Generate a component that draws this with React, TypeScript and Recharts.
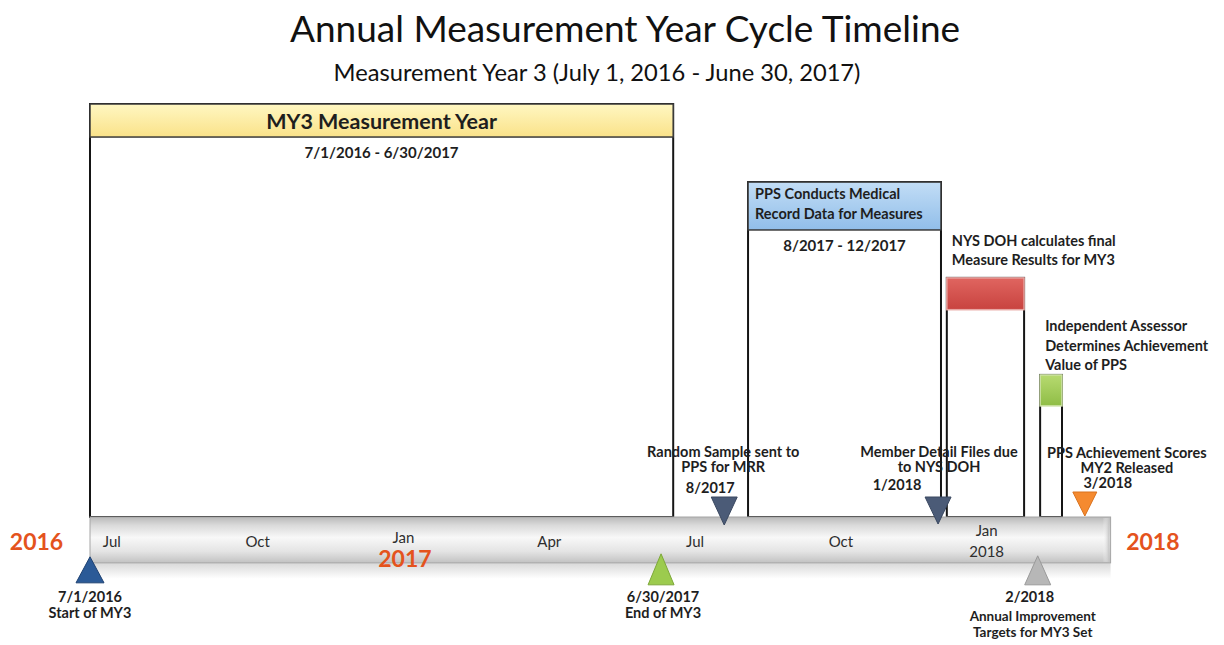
import React from "react";
import { ComposedChart, XAxis, YAxis, Scatter, ReferenceArea } from "recharts";

// ---------------- data ----------------
// x values are months since July 1, 2016
const tickValues = [0.45, 3.45, 6.45, 9.45, 12.45, 15.45, 18.45];
const tickLabels = ["Jul", "Oct", "Jan", "Apr", "Jul", "Oct", "Jan"];
const tickSubLabels = ["", "", "", "", "", "", "2018"];

const yearValues = [-1.1, 6.48, 21.87];
const yearLabels = ["2016", "2017", "2018"];

const timelineStart = 0;
const timelineEnd = 21;

const phaseNames = [
  ["MY3 Measurement Year"],
  ["PPS Conducts Medical", "Record Data for Measures"],
  ["NYS DOH calculates final", "Measure Results for MY3"],
  ["Independent Assessor", "Determines Achievement", "Value of PPS"],
];
const phaseStarts = [0, 13.54, 17.63, 19.55];
const phaseEnds = [12, 17.51, 19.22, 20.0];
const phaseRanges = ["7/1/2016 - 6/30/2017", "8/2017 - 12/2017", "", ""];

const milestoneDates = [0, 11.75, 13.05, 17.45, 19.5, 20.47];
const milestoneDateLabels = ["7/1/2016", "6/30/2017", "8/2017", "1/2018", "2/2018", "3/2018"];
const milestoneTitles = [
  ["Start of MY3"],
  ["End of MY3"],
  ["Random Sample sent to", "PPS for MRR"],
  ["Member Detail Files due", "to NYS DOH"],
  ["Annual Improvement", "Targets for MY3 Set"],
  ["PPS Achievement Scores", "MY2 Released"],
];
const milestoneSides = ["below", "below", "above", "above", "below", "above"];

// ---------------- layout / style ----------------
const W = 1224;
const H = 645;
const X_DOMAIN: [number, number] = [-1.5, 23];
const Y_DOMAIN: [number, number] = [-30, 110];
const MARGIN = { top: 62.7, right: 16.2, bottom: 4.1, left: 17.1 };
const BAR_TOP = 0;
const BAR_BOTTOM = -11.1;
const FONT = "Lato, 'Open Sans', sans-serif";
const TEXT = "#1e1e1e";
const LABEL_SIZE = 14.5;

const phaseTop = [100, 81.1, 57.9, 34.4];
const phaseHeader = [8, 11.6, 7.7, 7.5];
const phaseFill = ["url(#gYellow)", "url(#gBlue)", "url(#gRed)", "url(#gGreen)"];
const phaseHeaderStroke = ["#3a3a3a", "#3a3a3a", "#e8a6a2", "#cfe3a8"];
const phaseLabelMode = ["center", "left", "above", "above"];
const phaseLabelGap = [0, 0, 18, 10];

const yearLevels = [-5.8, -9.9, -5.8];
const tickLevels = [-5.8, -5.8, -4.9, -5.8, -5.8, -5.8, -3.2];

const milestoneColor = ["#2b5a97", "#9ccb4e", "#4b5b77", "#4b5b77", "#b7b7b7", "#f58a2f"];
const milestoneEdge = ["#1f4272", "#7ea83a", "#3a4860", "#3a4860", "#9a9a9a", "#d9731f"];
// [tipDy, baseDy, halfWidth]
const milestoneTri = [
  [-6, 20, 14],
  [-9, 22, 13],
  [8, -20, 13],
  [7, -20, 13],
  [-7, 22, 13],
  [-1, -25, 12],
];
// [dateDx, dateDy, titleDx, titleDy, lineGap, titleSize]
const milestoneText = [
  [0, 34, 0, 50, 15, 14.5],
  [2, 34, 2, 50, 15, 14.5],
  [-14, -30, -1, -66, 15, 14.5],
  [-41, -33, 1, -66, 15, 14.5],
  [-8, 34, -5, 53, 16, 13.5],
  [23, -35, 42, -65, 15, 14.5],
];

const milestonePoints = milestoneDates.map((d, i) => ({
  x: d,
  y: milestoneSides[i] === "above" ? BAR_TOP : BAR_BOTTOM,
  i,
}));
const yearPoints = yearValues.map((v, i) => ({ x: v, y: yearLevels[i], i }));
const tickPoints = tickValues.map((v, i) => ({ x: v, y: tickLevels[i], i }));

const txt = (x: number, y: number, s: string, opts: any = {}) => (
  <text
    key={s + x + "_" + y}
    x={x}
    y={y}
    textAnchor={opts.anchor || "middle"}
    dominantBaseline="central"
    fontFamily={FONT}
    fontSize={opts.size || LABEL_SIZE}
    fontWeight={opts.weight || 700}
    fill={opts.fill || TEXT}
  >
    {s}
  </text>
);

const renderMilestone = (props: any) => {
  const { cx, cy, payload } = props;
  const i = payload.i;
  const [tip, base, hw] = milestoneTri[i];
  const [ddx, ddy, tdx, tdy, gap, tsize] = milestoneText[i];
  const pts = `${cx - hw},${cy + base} ${cx + hw},${cy + base} ${cx},${cy + tip}`;
  const titles = milestoneTitles[i];
  return (
    <g>
      <polygon points={pts} fill={milestoneColor[i]} stroke={milestoneEdge[i]} strokeWidth={1} />
      {txt(cx + ddx, cy + ddy, milestoneDateLabels[i])}
      {titles.map((t, k) => txt(cx + tdx, cy + tdy + k * gap, t, { size: tsize }))}
    </g>
  );
};

const renderYear = (props: any) => {
  const { cx, cy, payload } = props;
  return txt(cx, cy, yearLabels[payload.i], { size: 23, fill: "#e4531d" });
};

const renderTick = (props: any) => {
  const { cx, cy, payload } = props;
  const i = payload.i;
  const sub = tickSubLabels[i];
  return (
    <g>
      {txt(cx, cy, tickLabels[i], { weight: 400, size: 15, fill: "#2e2e2e" })}
      {sub ? txt(cx, cy + 21, sub, { weight: 400, size: 15, fill: "#2e2e2e" }) : null}
    </g>
  );
};

const boxShape = (props: any) => {
  const { x, y, width, height } = props;
  return <rect x={x} y={y} width={width} height={height} fill="none" stroke="#151515" strokeWidth={2} />;
};

const makeHeaderShape = (i: number) => (props: any) => {
  const { x, y, width, height } = props;
  const mode = phaseLabelMode[i];
  const lines = phaseNames[i];
  let labels: any = null;
  if (mode === "center") {
    labels = txt(x + width / 2, y + height / 2, lines[0], { size: 21.5 });
  } else if (mode === "left") {
    labels = lines.map((l, k) => txt(x + 7, y + 11 + k * 20, l, { anchor: "start" }));
  } else {
    const n = lines.length;
    labels = lines.map((l, k) =>
      txt(x + 5, y - phaseLabelGap[i] - (n - 1 - k) * 19.5, l, { anchor: "start" })
    );
  }
  const range = phaseRanges[i];
  return (
    <g>
      <rect x={x} y={y} width={width} height={height} fill={phaseFill[i]} stroke={phaseHeaderStroke[i]} strokeWidth={1.5} />
      {labels}
      {range ? txt(x + width / 2, y + height + 15, range, { size: 15 }) : null}
    </g>
  );
};

const barShape = (props: any) => {
  const { x, y, width, height } = props;
  return (
    <g>
      <rect x={x} y={y + height} width={width} height={16} fill="url(#gRefl)" />
      <rect x={x} y={y} width={width} height={height} fill="url(#gBar)" stroke="#a5a5a5" strokeWidth={1} />
      <rect x={x + width - 8} y={y + 1} width={7} height={height - 2} fill="url(#gEnd)" />
    </g>
  );
};

export default function App() {
  return (
    <div style={{ position: "absolute", left: 0, top: 0, width: W, height: H, background: "#fff", overflow: "hidden" }}>
      <div
        style={{
          position: "absolute",
          left: 0,
          width: 1250,
          top: 8,
          textAlign: "center",
          fontFamily: FONT,
          fontSize: 37,
          lineHeight: "40px",
          color: "#111",
        }}
      >
        Annual Measurement Year Cycle Timeline
      </div>
      <div
        style={{
          position: "absolute",
          left: 0,
          width: 1194,
          top: 58,
          textAlign: "center",
          fontFamily: FONT,
          fontSize: 23.7,
          lineHeight: "28px",
          color: "#111",
        }}
      >
        Measurement Year 3 (July 1, 2016 - June 30, 2017)
      </div>
      <div style={{ position: "absolute", left: 0, top: 0 }}>
        <ComposedChart width={W} height={H} margin={MARGIN}>
          <defs>
            <linearGradient id="gBar" x1="0" y1="0" x2="0" y2="1">
              <stop offset="0%" stopColor="#b9b9b9" />
              <stop offset="18%" stopColor="#dadada" />
              <stop offset="45%" stopColor="#f8f8f8" />
              <stop offset="75%" stopColor="#e4e4e4" />
              <stop offset="100%" stopColor="#c2c2c2" />
            </linearGradient>
            <linearGradient id="gRefl" x1="0" y1="0" x2="0" y2="1">
              <stop offset="0%" stopColor="#d8d8d8" />
              <stop offset="100%" stopColor="#ffffff" />
            </linearGradient>
            <linearGradient id="gEnd" x1="0" y1="0" x2="1" y2="0">
              <stop offset="0%" stopColor="#ffffff" stopOpacity={0} />
              <stop offset="100%" stopColor="#bdbdbd" />
            </linearGradient>
            <linearGradient id="gYellow" x1="0" y1="0" x2="0" y2="1">
              <stop offset="0%" stopColor="#fff7c2" />
              <stop offset="100%" stopColor="#fae289" />
            </linearGradient>
            <linearGradient id="gBlue" x1="0" y1="0" x2="0" y2="1">
              <stop offset="0%" stopColor="#c2ddf6" />
              <stop offset="100%" stopColor="#91bee9" />
            </linearGradient>
            <linearGradient id="gRed" x1="0" y1="0" x2="0" y2="1">
              <stop offset="0%" stopColor="#e06560" />
              <stop offset="100%" stopColor="#c8433f" />
            </linearGradient>
            <linearGradient id="gGreen" x1="0" y1="0" x2="0" y2="1">
              <stop offset="0%" stopColor="#b7da70" />
              <stop offset="100%" stopColor="#8fbd46" />
            </linearGradient>
          </defs>
          <XAxis type="number" dataKey="x" domain={X_DOMAIN} hide />
          <YAxis type="number" dataKey="y" domain={Y_DOMAIN} hide />
          {phaseStarts.map((s, i) => (
            <ReferenceArea
              key={"box" + i}
              x1={s}
              x2={phaseEnds[i]}
              y1={BAR_TOP}
              y2={phaseTop[i]}
              shape={boxShape}
              ifOverflow="visible"
            />
          ))}
          {phaseStarts.map((s, i) => (
            <ReferenceArea
              key={"hdr" + i}
              x1={s}
              x2={phaseEnds[i]}
              y1={phaseTop[i] - phaseHeader[i]}
              y2={phaseTop[i]}
              shape={makeHeaderShape(i)}
              ifOverflow="visible"
            />
          ))}
          <ReferenceArea
            x1={timelineStart}
            x2={timelineEnd}
            y1={BAR_BOTTOM}
            y2={BAR_TOP}
            shape={barShape}
            ifOverflow="visible"
          />
          <Scatter data={tickPoints} dataKey="y" shape={renderTick} isAnimationActive={false} />
          <Scatter data={yearPoints} dataKey="y" shape={renderYear} isAnimationActive={false} />
          <Scatter data={milestonePoints} dataKey="y" shape={renderMilestone} isAnimationActive={false} />
        </ComposedChart>
      </div>
    </div>
  );
}
